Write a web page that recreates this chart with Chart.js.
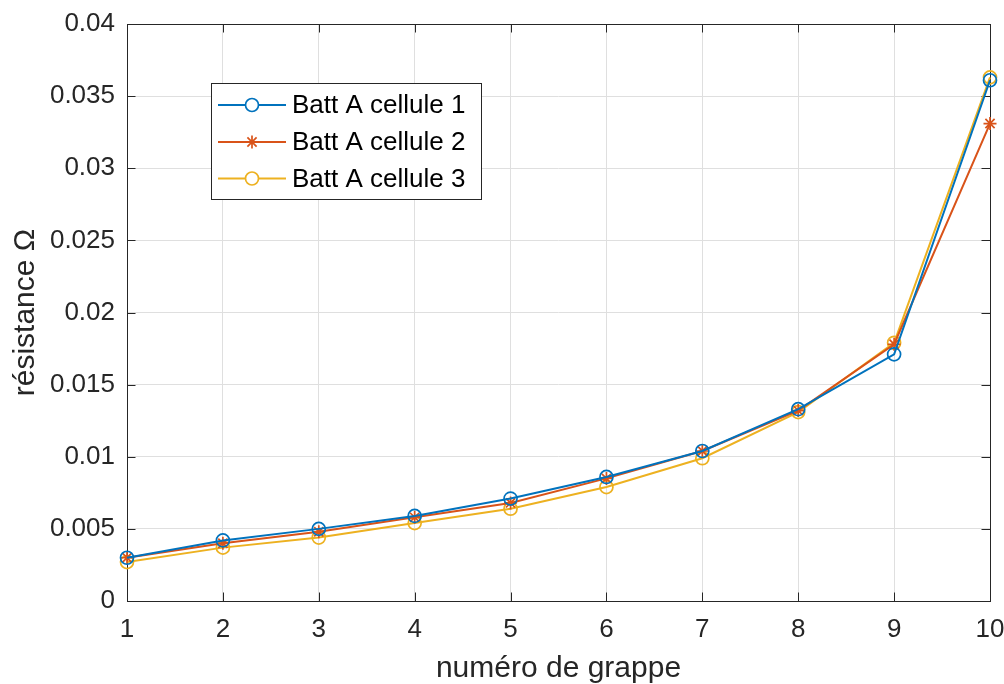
<!DOCTYPE html>
<html>
<head>
<meta charset="utf-8">
<script src="https://cdn.jsdelivr.net/npm/chart.js@4.4.1/dist/chart.umd.min.js"></script>
<style>
html,body{margin:0;padding:0;background:#fff;}
#wrap{width:1004px;height:684px;position:relative;}
</style>
</head>
<body>
<div id="wrap"><canvas id="c" width="1004" height="684"></canvas></div>
<script>
const grappes = [1, 2, 3, 4, 5, 6, 7, 8, 9, 10];
const cellule1 = [0.0030, 0.0042, 0.0050, 0.0059, 0.0071, 0.0086, 0.0104, 0.0133, 0.0171, 0.0361];
const cellule2 = [0.0030, 0.0040, 0.0048, 0.0058, 0.0068, 0.0085, 0.0104, 0.0132, 0.0178, 0.0331];
const cellule3 = [0.0027, 0.0037, 0.0044, 0.0054, 0.0064, 0.0079, 0.0099, 0.0131, 0.0179, 0.0363];
const seriesNames = ['Batt A cellule 1', 'Batt A cellule 2', 'Batt A cellule 3'];
const xTicks = [1, 2, 3, 4, 5, 6, 7, 8, 9, 10];
const yTicks = [0, 0.005, 0.01, 0.015, 0.02, 0.025, 0.03, 0.035, 0.04];
const xLabel = 'numéro de grappe';
const yLabel = 'résistance Ω';

const AX = '#262626';
const GRID = '#dfdfdf';
const FONT = "'Liberation Sans', Arial, Helvetica, sans-serif";

function pts(vals){ return grappes.map((g,i)=>({x:g, y:vals[i]})); }

const boxPlugin = {
  id:'boxPlugin',
  beforeDatasetsDraw(chart){
    const {ctx, chartArea:a, scales:{x, y}} = chart;
    ctx.save();
    ctx.strokeStyle = AX; ctx.lineWidth = 1;
    const tl = 8.5;
    ctx.beginPath();
    xTicks.forEach(v=>{
      const px = Math.round(x.getPixelForValue(v)) + 0.5;
      ctx.moveTo(px, a.bottom); ctx.lineTo(px, a.bottom - tl);
      ctx.moveTo(px, a.top); ctx.lineTo(px, a.top + tl);
    });
    yTicks.forEach(v=>{
      const py = Math.round(y.getPixelForValue(v)) + 0.5;
      ctx.moveTo(a.left, py); ctx.lineTo(a.left + tl, py);
      ctx.moveTo(a.right, py); ctx.lineTo(a.right - tl, py);
    });
    ctx.stroke();
    ctx.strokeRect(Math.round(a.left)+0.5, Math.round(a.top)+0.5, Math.round(a.right-a.left), Math.round(a.bottom-a.top));
    ctx.restore();
  }
};

const legendPlugin = {
  id:'legendBox',
  afterDatasetsDraw(chart){
    const ctx = chart.ctx;
    const bx = 211.5, by = 83.5, bw = 270, bh = 116;
    ctx.save();
    ctx.fillStyle = '#fff';
    ctx.fillRect(bx, by, bw, bh);
    ctx.strokeStyle = AX; ctx.lineWidth = 1;
    ctx.strokeRect(bx, by, bw, bh);
    const rows = [105, 142, 178.5];
    chart.data.datasets.forEach((ds, i)=>{
      const cy = rows[i];
      ctx.strokeStyle = ds.borderColor; ctx.lineWidth = ds.borderWidth;
      ctx.beginPath(); ctx.moveTo(218, cy); ctx.lineTo(286, cy); ctx.stroke();
      ctx.fillStyle = '#fff';
      ctx.strokeStyle = ds.pointBorderColor;
      ctx.lineWidth = ds.pointBorderWidth;
      Chart.helpers.drawPoint(ctx, {pointStyle: ds.pointStyle, radius: ds.pointRadius, borderWidth: ds.pointBorderWidth, rotation:0}, 252, cy);
      ctx.fillStyle = '#000';
      ctx.font = "26px " + FONT;
      ctx.textBaseline = 'middle';
      ctx.textAlign = 'left';
      ctx.fillText(ds.label, 292, cy + 1);
    });
    ctx.restore();
  }
};

const mk = (label, vals, color, style) => ({
  label, data: pts(vals), borderColor: color, backgroundColor: color,
  borderWidth: 2, pointStyle: style, pointRadius: 6.5, pointHoverRadius: 6.5,
  pointBorderColor: color, pointBackgroundColor: 'rgba(0,0,0,0)', pointBorderWidth: 1.7,
  tension: 0, fill: false, clip: false
});

new Chart(document.getElementById('c'), {
  type: 'line',
  data: {
    datasets: [
      mk(seriesNames[0], cellule1, '#0072BD', 'circle'),
      mk(seriesNames[1], cellule2, '#D95319', 'star'),
      mk(seriesNames[2], cellule3, '#EDB120', 'circle')
    ]
  },
  options: {
    responsive: false, animation: false, devicePixelRatio: 1,
    layout: { padding: { top: 24, right: 14, left: 0, bottom: 0 } },
    plugins: { legend: { display: false }, tooltip: { enabled: false } },
    scales: {
      x: {
        type: 'linear', min: 1, max: 10,
        afterBuildTicks: s => { s.ticks = xTicks.map(v=>({value:v})); },
        afterFit: s => { s.height = 83; s.paddingLeft = 0; s.paddingRight = 0; },
        grid: { color: GRID, drawTicks: false, lineWidth: 1 },
        border: { display: false },
        ticks: { color: AX, font: { family: FONT, size: 26 }, padding: 13, maxRotation: 0, autoSkip: false },
        title: { display: true, text: xLabel, color: AX, font: { family: FONT, size: 30, lineHeight: 1 }, padding: { top: 0, bottom: 0 } }
      },
      y: {
        type: 'linear', min: 0, max: 0.04,
        afterBuildTicks: s => { s.ticks = yTicks.map(v=>({value:v})); },
        afterFit: s => { s.width = 127; s.paddingTop = 0; s.paddingBottom = 0; },
        grid: { color: GRID, drawTicks: false, lineWidth: 1 },
        border: { display: false },
        ticks: { color: AX, font: { family: FONT, size: 26 }, padding: 12,
          callback: v => String(Number(v.toFixed(4))) },
        title: { display: true, text: yLabel, color: AX, font: { family: FONT, size: 30, lineHeight: 1 }, padding: { top: 11, bottom: 0 } }
      }
    }
  },
  plugins: [boxPlugin, legendPlugin]
});
</script>
</body>
</html>
